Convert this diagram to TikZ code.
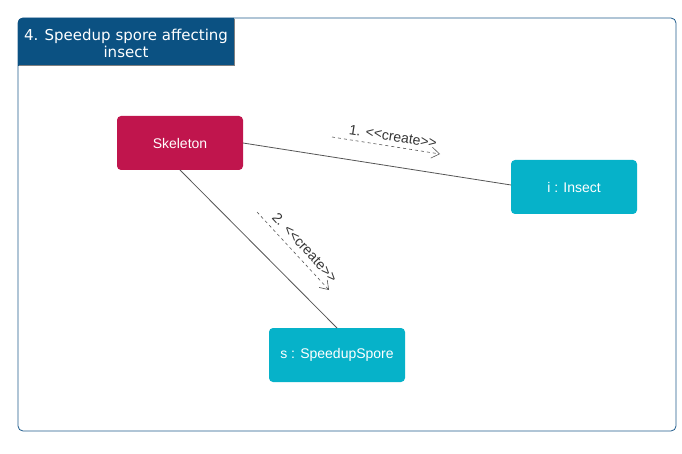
\documentclass[tikz,border=0pt]{standalone}
\usepackage{fontspec}
\setmainfont{Liberation Sans}
\newfontfamily\titlefont{DejaVu Sans}
\usetikzlibrary{arrows.meta}

\definecolor{frameblue}{HTML}{1F5C8C}
\definecolor{titleblue}{HTML}{0B5182}
\definecolor{skelred}{HTML}{C0154D}
\definecolor{objcyan}{HTML}{06B2C9}
\definecolor{linkgray}{HTML}{555555}

\tikzset{
    objbox/.style={rounded corners=4pt, text=white, font=\fontsize{14}{16}\selectfont},
    link/.style={linkgray, line width=0.8pt},
    msg/.style={linkgray, dashed, line width=0.6pt, -{Straight Barb[length=8pt, width=11pt]}},
    msglabel/.style={font=\fontsize{14}{16}\selectfont, text=black!80, inner sep=2pt}
}

\begin{document}
\begin{tikzpicture}[x=1pt, y=-1pt]
    \useasboundingbox (0,0) rectangle (682,454);

    % Frame and title
    \draw[frameblue, line width=0.8pt, rounded corners=5pt] (18,18) rectangle (676,431);
    \fill[titleblue] (18,66) -- (18,22) [rounded corners=4pt] -- (18,18) [sharp corners] -- (234,18) -- (234,66) -- cycle;
    \draw[gray, line width=1pt] (234,19) -- (234,66) -- (19,66);
    \node[text=white, align=center, font=\titlefont\fontsize{15}{17}\selectfont] (title) at (126,43) {4. Speedup spore affecting\\insect};

    % Objects
    \fill[skelred, rounded corners=4pt] (117,116) rectangle (243,170);
    \node[objbox] (skel) at (180,143) {Skeleton};
    \fill[objcyan, rounded corners=4pt] (511,160) rectangle (637,214);
    \node[objbox] (insect) at (574,187) {i : Insect};
    \fill[objcyan, rounded corners=4pt] (269,328) rectangle (405,382);
    \node[objbox] (spore) at (337,355) {s : SpeedupSpore};

    % Links
    \coordinate (skelE) at (243,143);
    \coordinate (insectW) at (511,185);
    \coordinate (skelS) at (180,170);
    \coordinate (sporeN) at (337,328);
    \draw[link] (skelE) -- (insectW);
    \draw[link] (skelS) -- (sporeN);

    % Messages
    \coordinate (m1a) at (332,137);
    \coordinate (m1b) at (440,154);
    \draw[msg] (m1a) -- (m1b) node[pos=0.55, sloped, above=3pt, msglabel] {1. <{}<create>{}>};
    \coordinate (m2a) at (257,212);
    \coordinate (m2b) at (329,290);
    \draw[msg] (m2a) -- (m2b) node[pos=0.55, sloped, above=4pt, msglabel] {2. <{}<create>{}>};
\end{tikzpicture}
\end{document}
